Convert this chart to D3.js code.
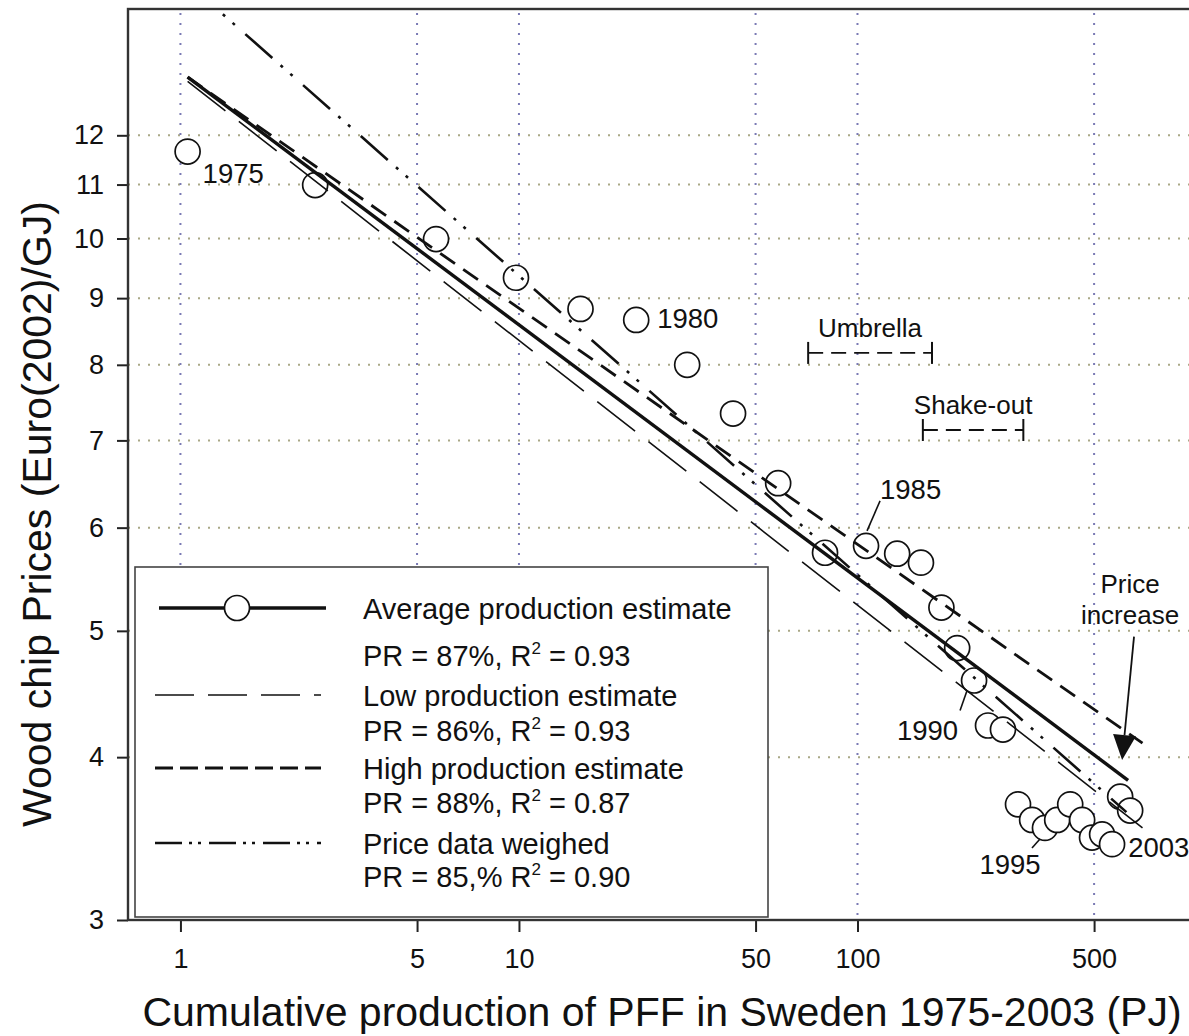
<!DOCTYPE html>
<html>
<head>
<meta charset="utf-8">
<script src="https://cdn.jsdelivr.net/npm/d3@7/dist/d3.min.js"></script>
<style>
  html, body { margin: 0; padding: 0; background: #fff; }
  svg { display: block; font-family: "Liberation Sans", Arial, Helvetica, sans-serif; }
</style>
</head>
<body>
<svg id="chart" width="1189" height="1036"></svg>
<script>
// ---------------- DATA ----------------
const years = d3.range(1975, 2004);
// cumulative production of PFF (PJ)
const cumProduction = [1.05, 2.50, 5.69, 9.80, 15.2, 22.2, 31.4, 42.9, 58.3, 80.2,
  106, 131, 154, 177, 197, 221, 243, 269, 298, 328,
  358, 389, 425, 461, 493, 528, 565, 597, 639];
// wood chip price (Euro(2002)/GJ)
const chipPrice = [11.66, 10.99, 9.99, 9.33, 8.83, 8.66, 8.00, 7.34, 6.49, 5.74,
  5.81, 5.73, 5.64, 5.21, 4.85, 4.58, 4.23, 4.20, 3.68, 3.58,
  3.53, 3.58, 3.68, 3.58, 3.47, 3.49, 3.43, 3.73, 3.64];

// fitted experience curves: [x, y] end points
const fitAverage = [[1.05, 13.3], [630, 3.84]];
const fitLow     = [[1.05, 13.2], [695, 3.53]];
const fitHigh    = [[1.05, 13.3], [695, 4.10]];
const fitPrice   = [[1.05, 15.7], [623, 3.63]];

const xTicks = [1, 5, 10, 50, 100, 500];
const yTicks = [3, 4, 5, 6, 7, 8, 9, 10, 11, 12];

const legendLabels = [
  ["Average production estimate", "PR = 87%, R", "2", " = 0.93"],
  ["Low production estimate",     "PR = 86%, R", "2", " = 0.93"],
  ["High production estimate",    "PR = 88%, R", "2", " = 0.87"],
  ["Price data weighed",          "PR = 85,% R", "2", " = 0.90"]
];

const yearLabels = ["1975", "1980", "1985", "1990", "1995", "2003"];
const periods = [
  { name: "Umbrella",  from: 71.5,  to: 166, price: 8.17 },
  { name: "Shake-out", from: 156,   to: 309, price: 7.13 }
];
const arrowTail = [656, 4.95];
const arrowTip  = [605, 3.98];
const arrowText = ["Price", "increase"];

// ---------------- LAYOUT ----------------
const L = 128, R = 1196, T = 9, B = 920;
const x = d3.scaleLog().domain([0.7, 1000]).range([L, R]);
const y = d3.scaleLog().domain([3, 15]).range([B, T]);

const svg = d3.select("#chart");
const font = "\"Liberation Sans\", Arial, sans-serif";

svg.append("defs").append("clipPath").attr("id", "plotclip")
  .append("rect").attr("x", L).attr("y", T).attr("width", R - L).attr("height", B - T);

// grid
const grid = svg.append("g");
grid.selectAll("line.hg").data(yTicks.filter(d => d > 3)).join("line")
  .attr("x1", L).attr("x2", R).attr("y1", d => y(d)).attr("y2", d => y(d))
  .attr("stroke", "#a9a886").attr("stroke-width", 2).attr("stroke-dasharray", "2,8");
grid.selectAll("line.vg").data(xTicks).join("line")
  .attr("y1", T + 4).attr("y2", B).attr("x1", d => x(d)).attr("x2", d => x(d))
  .attr("stroke", "#7a7ab4").attr("stroke-width", 2).attr("stroke-dasharray", "2,8");

// axes
const yAxis = d3.axisLeft(y).tickValues(yTicks).tickFormat(d3.format("d")).tickSize(11).tickPadding(13);
const gy = svg.append("g").attr("transform", `translate(${L},0)`).call(yAxis);
const xAxis = d3.axisBottom(x).tickValues(xTicks).tickFormat(d3.format("d")).tickSize(12).tickPadding(17);
const gx = svg.append("g").attr("transform", `translate(0,${B})`).call(xAxis);
[gx, gy].forEach(g => {
  g.select(".domain").remove();
  g.selectAll(".tick line").attr("stroke", "#222").attr("stroke-width", 2);
  g.selectAll(".tick text").attr("font-size", 27).attr("font-family", font).attr("fill", "#111");
});

// frame
svg.append("rect").attr("x", L).attr("y", T).attr("width", R - L).attr("height", B - T)
  .attr("fill", "none").attr("stroke", "#333").attr("stroke-width", 2.4);

// points
const pts = years.map((yr, i) => ({ year: yr, cx: x(cumProduction[i]), cy: y(chipPrice[i]) }));
svg.append("g").selectAll("circle").data(pts).join("circle")
  .attr("cx", d => d.cx).attr("cy", d => d.cy).attr("r", 12.5)
  .attr("fill", "#fff").attr("stroke", "#111").attr("stroke-width", 1.7);

// fit lines
const line = d3.line().x(d => x(d[0])).y(d => y(d[1]));
const styles = [
  { data: fitAverage, w: 3.4, dash: null,                  leg: null },
  { data: fitLow,     w: 1.6, dash: "48,17",               leg: "39,14" },
  { data: fitHigh,    w: 2.8, dash: "18,10",               leg: "18,7" },
  { data: fitPrice,   w: 2.6, dash: "36,11,3,10,3,14",     leg: "27,7,3,6,3,8" }
];
const lines = svg.append("g").attr("clip-path", "url(#plotclip)");
styles.forEach(s => {
  lines.append("path").attr("d", line(s.data)).attr("fill", "none")
    .attr("stroke", "#111").attr("stroke-width", s.w)
    .attr("stroke-dasharray", s.dash);
});

// year labels
const labelCfg = [
  { idx: 0,  dx: 15,  dy: 31, anchor: "start" },
  { idx: 5,  dx: 21,  dy: 8,  anchor: "start" },
  { idx: 10, dx: 14,  dy: -47, anchor: "start", leader: [[1, -15], [14, -45]] },
  { idx: 15, dx: -16, dy: 59, anchor: "end",   leader: [[-7, 10], [-14, 30]] },
  { idx: 20, dx: -35, dy: 46, anchor: "middle", leader: [[-5, 11], [-13, 20]] },
  { idx: 28, dx: -2,  dy: 46, anchor: "start" }
];
const ann = svg.append("g");
labelCfg.forEach((c, k) => {
  const p = pts[c.idx];
  ann.append("text").attr("x", p.cx + c.dx).attr("y", p.cy + c.dy)
    .attr("text-anchor", c.anchor).attr("font-size", 27.5).attr("fill", "#111")
    .text(yearLabels[k]);
  if (c.leader) {
    ann.append("line")
      .attr("x1", p.cx + c.leader[0][0]).attr("y1", p.cy + c.leader[0][1])
      .attr("x2", p.cx + c.leader[1][0]).attr("y2", p.cy + c.leader[1][1])
      .attr("stroke", "#111").attr("stroke-width", 1.6);
  }
});

// periods
periods.forEach(pr => {
  const x1 = x(pr.from), x2 = x(pr.to), yy = y(pr.price);
  ann.append("line").attr("x1", x1).attr("x2", x2).attr("y1", yy).attr("y2", yy)
    .attr("stroke", "#111").attr("stroke-width", 1.8).attr("stroke-dasharray", "15,8");
  [x1, x2].forEach(xx => ann.append("line").attr("x1", xx).attr("x2", xx)
    .attr("y1", yy - 11).attr("y2", yy + 11).attr("stroke", "#111").attr("stroke-width", 2));
  ann.append("text").attr("x", (x1 + x2) / 2).attr("y", yy - 16)
    .attr("text-anchor", "middle").attr("font-size", 26).attr("fill", "#111").text(pr.name);
});

// arrow
{
  const tx = x(arrowTail[0]), ty = y(arrowTail[1]);
  const hx = x(arrowTip[0]), hy = y(arrowTip[1]);
  const ang = Math.atan2(hy - ty, hx - tx);
  const hl = 25, hw = 11.5;
  const bx = hx - hl * Math.cos(ang), by = hy - hl * Math.sin(ang);
  ann.append("line").attr("x1", tx).attr("y1", ty).attr("x2", bx).attr("y2", by)
    .attr("stroke", "#111").attr("stroke-width", 1.8);
  ann.append("polygon").attr("points", [
    [hx, hy],
    [bx + hw * Math.sin(ang), by - hw * Math.cos(ang)],
    [bx - hw * Math.sin(ang), by + hw * Math.cos(ang)]
  ].map(p => p.join(",")).join(" ")).attr("fill", "#111");
  ann.append("text").attr("x", tx - 4).attr("y", ty - 44).attr("text-anchor", "middle")
    .attr("font-size", 26).attr("fill", "#111").text(arrowText[0]);
  ann.append("text").attr("x", tx - 4).attr("y", ty - 13).attr("text-anchor", "middle")
    .attr("font-size", 26).attr("fill", "#111").text(arrowText[1]);
}

// legend
const lg = svg.append("g");
lg.append("rect").attr("x", 135).attr("y", 567).attr("width", 633).attr("height", 350)
  .attr("fill", "#fff").attr("stroke", "#444").attr("stroke-width", 1.6);
const rowY = [608, 695, 768, 843];
const subY = [666, 741, 813, 887];
legendLabels.forEach((lab, i) => {
  const s = styles[i];
  lg.append("line").attr("x1", i === 0 ? 159 : 155).attr("x2", i === 0 ? 326 : 321)
    .attr("y1", rowY[i]).attr("y2", rowY[i])
    .attr("stroke", "#111").attr("stroke-width", s.w).attr("stroke-dasharray", s.leg);
  if (i === 0) {
    lg.append("circle").attr("cx", 237).attr("cy", rowY[i]).attr("r", 12.5)
      .attr("fill", "#fff").attr("stroke", "#111").attr("stroke-width", 1.7);
  }
  lg.append("text").attr("x", 363).attr("y", rowY[i] + 11).attr("font-size", 29).attr("fill", "#111")
    .text(lab[0]);
  const t = lg.append("text").attr("x", 363).attr("y", subY[i]).attr("font-size", 29).attr("fill", "#111");
  t.append("tspan").text(lab[1]);
  t.append("tspan").attr("font-size", 17).attr("dy", -12).text(lab[2]);
  t.append("tspan").attr("dy", 12).text(lab[3]);
});

// axis titles
svg.append("text").attr("x", (L + R) / 2).attr("y", 1026).attr("text-anchor", "middle")
  .attr("font-size", 41).attr("fill", "#111")
  .text("Cumulative production of PFF in Sweden 1975-2003 (PJ)");
svg.append("text").attr("transform", "translate(51,514) rotate(-90)").attr("text-anchor", "middle")
  .attr("font-size", 41).attr("fill", "#111")
  .text("Wood chip Prices (Euro(2002)/GJ)");
</script>
</body>
</html>
